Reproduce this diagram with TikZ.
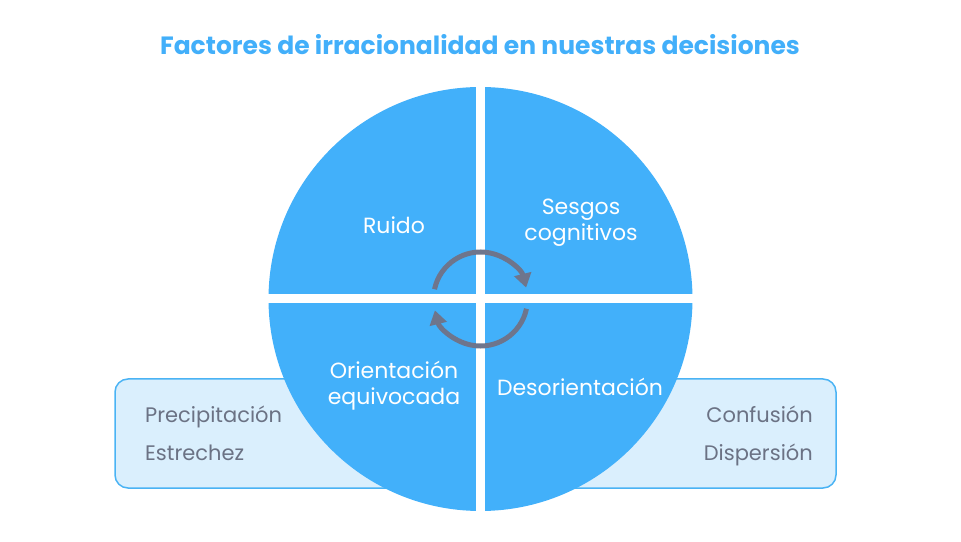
\documentclass[tikz,border=0pt]{standalone}
\usepackage{fontspec}
\setmainfont{Poppins}
\usetikzlibrary{arrows.meta}
\definecolor{cblue}{RGB}{66,176,250}
\definecolor{tblue}{RGB}{66,175,250}
\definecolor{boxfill}{RGB}{218,239,253}
\definecolor{boxline}{RGB}{74,179,244}
\definecolor{tgray}{RGB}{107,114,132}
\definecolor{agray}{RGB}{110,117,140}
\tikzset{
  sidebox/.style={draw=boxline, line width=1.5pt, fill=boxfill, rounded corners=13pt},
  quadtext/.style={text=white, font=\fontsize{22}{26}\selectfont, align=center},
  sidetext/.style={text=tgray, inner sep=0pt, font=\fontsize{21}{24}\selectfont},
  cyc/.style={draw=agray, line width=5pt, -{Triangle[length=14pt,width=17pt]}},
}
\begin{document}
\begin{tikzpicture}[x=1pt,y=1pt]
\useasboundingbox (0,0) rectangle (961,541);
% title
\node[text=tblue, font=\bfseries\fontsize{25}{29}\selectfont] (title) at (480,496) {Factores de irracionalidad en nuestras decisiones};
% side boxes
\draw[sidebox] (115,53) rectangle (430,162);
\draw[sidebox] (531,53) rectangle (836,162);
\node[sidetext, anchor=base west] (p1) at (145,118) {Precipitación};
\node[sidetext, anchor=base west] (p2) at (145,81) {Estrechez};
\node[sidetext, anchor=base east] (c1) at (813,118) {Confusión};
\node[sidetext, anchor=base east] (c2) at (813,81) {Dispersión};
% circle
\coordinate (c) at (480.5,242);
\fill[cblue] (c) circle (212);
\draw[white, line width=9pt] (480.5,25) -- (480.5,459);
\draw[white, line width=9pt] (264,242) -- (697,242);
% quadrant labels
\node[quadtext] (q1) at (394,316) {Ruido};
\node[quadtext] (q2) at (581,318) {Sesgos\\cognitivos};
\node[quadtext] (q3) at (394,155) {Orientación\\equivocada};
\node[quadtext] (q4) at (580,154) {Desorientación};
% cycle arrows
\draw[cyc] ([shift={(168:47)}]c) arc[start angle=168, end angle=14, radius=47];
\draw[cyc] ([shift={(-12:47)}]c) arc[start angle=-12, end angle=-166, radius=47];
\end{tikzpicture}
\end{document}
